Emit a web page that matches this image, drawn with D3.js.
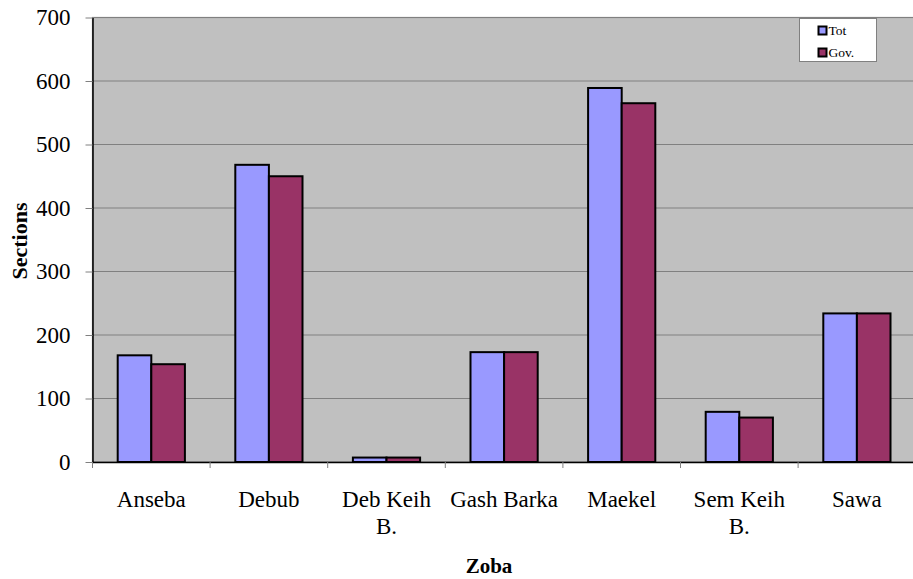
<!DOCTYPE html>
<html><head><meta charset="utf-8">
<script src="https://cdn.jsdelivr.net/npm/d3@7"></script>
<style>html,body{margin:0;padding:0;background:#fff;overflow:hidden}svg{display:block}svg text{font-family:'Liberation Serif','Times New Roman',serif}</style>
</head><body><svg id="c" width="913" height="579"></svg>
<script>
const categories = ["Anseba","Debub","Deb Keih B.","Gash Barka","Maekel","Sem Keih B.","Sawa"];
const categoryLines = [["Anseba"],["Debub"],["Deb Keih","B."],["Gash Barka"],["Maekel"],["Sem Keih","B."],["Sawa"]];
const seriesNames = ["Tot","Gov."];
const totValues = [168,468,7,173,589,79,234];
const govValues = [154,450,7,173,565,70,234];
const yTicks = [0,100,200,300,400,500,600,700];
const colors = ["#9999FF","#993366"];

const svg = d3.select("#c");
const font = "'Liberation Serif','Times New Roman',serif";
const L = 92.5, R = 915.7, T = 17.5, B = 462;

const x = d3.scaleBand().domain(categories).range([L, R]).paddingInner(0).paddingOuter(0);
const x1 = d3.scaleBand().domain(seriesNames).range([0, x.bandwidth()]).paddingInner(0).paddingOuter(0.75);
const y = d3.scaleLinear().domain([0,700]).range([B, T]);

// plot background
svg.append("rect").attr("x",L).attr("y",T).attr("width",R-L).attr("height",B-T)
  .attr("fill","#C0C0C0").attr("stroke","#808080").attr("stroke-width",1.2);

// gridlines
svg.append("g").selectAll("line").data(yTicks.filter(d=>d>0 && d<700)).join("line")
  .attr("x1",L).attr("x2",R).attr("y1",d=>y(d)).attr("y2",d=>y(d))
  .attr("stroke","#808080").attr("stroke-width",1.2);

// bars
const data = categories.map((c,i)=>({c, vals:[totValues[i],govValues[i]]}));
const g = svg.append("g").selectAll("g").data(data).join("g")
  .attr("transform",d=>`translate(${x(d.c)},0)`);
g.selectAll("rect").data(d=>d.vals.map((v,j)=>({s:seriesNames[j],v,j}))).join("rect")
  .attr("x",d=>x1(d.s)).attr("width",x1.bandwidth())
  .attr("y",d=>y(d.v)).attr("height",d=>B-y(d.v))
  .attr("fill",d=>colors[d.j]).attr("stroke","#000").attr("stroke-width",2);

// y axis
const yAxis = d3.axisLeft(y).tickValues(yTicks).tickSize(7).tickPadding(15).tickSizeOuter(0);
const ya = svg.append("g").attr("transform",`translate(${L},0)`).call(yAxis)
  .attr("font-family",font).attr("font-size",23);
ya.select(".domain").attr("stroke","#000").attr("stroke-width",1.5);
ya.selectAll(".tick line").attr("stroke","#808080");
ya.selectAll("text").style("font-family",font).style("font-size","23px").attr("fill","#000");

// x axis
const xAxis = d3.axisBottom(x).tickValues([]).tickSizeOuter(0);
const xa = svg.append("g").attr("transform",`translate(0,${B})`).call(xAxis);
xa.select(".domain").attr("stroke","#000").attr("stroke-width",1.5);
// category separator ticks
xa.selectAll("line.sep").data(categories).join("line").attr("class","sep")
  .attr("x1",d=>x(d)).attr("x2",d=>x(d)).attr("y1",0).attr("y2",6)
  .attr("stroke","#808080").attr("stroke-width",1);
// category labels
const lab = svg.append("g").selectAll("text").data(categories).join("text")
  .attr("x",d=>x(d)+x.bandwidth()/2).attr("y",506.5)
  .attr("text-anchor","middle").style("font-family",font).style("font-size","23px").attr("fill","#000");
lab.each(function(d,i){
  const t = d3.select(this);
  categoryLines[i].forEach((ln,k)=>{
    t.append("tspan").attr("x",x(d)+x.bandwidth()/2).attr("dy",k===0?0:27.3).text(ln);
  });
});

// axis titles
svg.append("text").attr("x",489).attr("y",573).attr("text-anchor","middle")
  .style("font-family",font).attr("font-weight","bold").style("font-size","21px").text("Zoba");
svg.append("text").attr("transform","translate(27,241) rotate(-90)").attr("text-anchor","middle")
  .style("font-family",font).attr("font-weight","bold").style("font-size","22px").text("Sections");

// legend
const lg = svg.append("g");
lg.append("rect").attr("x",799.5).attr("y",18.5).attr("width",77).attr("height",43)
  .attr("fill","#fff").attr("stroke","#808080").attr("stroke-width",1);
seriesNames.forEach((s,i)=>{
  const yy = 26 + i*22;
  lg.append("rect").attr("x",818.5).attr("y",yy+0.5).attr("width",8).attr("height",8)
    .attr("fill",colors[i]).attr("stroke","#000").attr("stroke-width",2);
  lg.append("text").attr("x",828.5).attr("y",yy+9).style("font-family",font)
    .style("font-size","13.5px").attr("fill","#000").text(s);
});
</script></body></html>
